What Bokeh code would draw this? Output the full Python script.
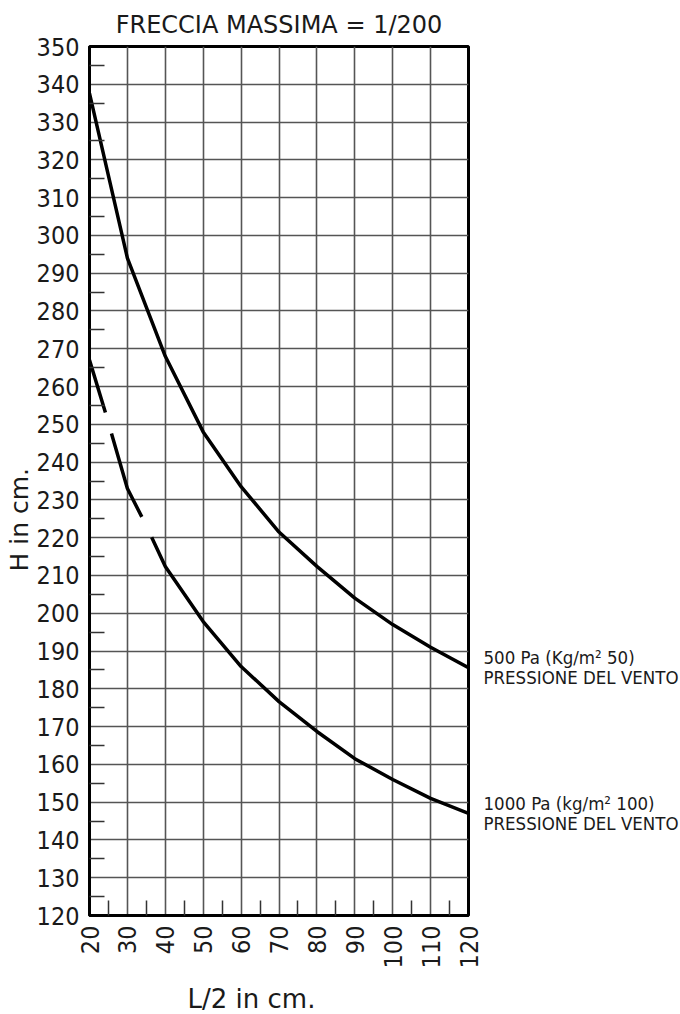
import numpy as np
from bokeh.plotting import figure
from bokeh.models import FixedTicker, Range1d, LinearAxis, Title, CustomJSTickFormatter
from bokeh.embed import file_html
from bokeh.resources import INLINE

nan = float("nan")

# ---- data ----
x_ticks = list(range(20, 121, 10))
x_minor = list(range(25, 120, 10))
y_ticks = list(range(120, 351, 10))
y_minor = list(range(125, 350, 10))

# 500 Pa (Kg/m2 50) wind pressure
x_500 = [20, 30, 40, 50, 60, 70, 80, 90, 100, 110, 120]
h_500 = [337.6, 294.0, 268.0, 248.0, 233.5, 221.5, 212.4, 204.0, 197.0, 191.0, 185.6]

# 1000 Pa (kg/m2 100) wind pressure (drawn with two breaks as in the reference)
x_1000 = [20, 24.2, nan, 25.8, 30, 33.8, nan, 36.4, 40, 50, 60, 70, 80, 90, 100, 110, 120]
h_1000 = [267.0, 253.1, nan, 247.6, 233.0, 225.5, nan, 220.1, 212.4, 197.8, 185.9,
          176.6, 168.7, 161.5, 156.0, 151.0, 147.0]

title_text = "FRECCIA MASSIMA = 1/200"
x_label = "L/2 in cm."
y_label = "H in cm."
label_500 = ["500 Pa (Kg/m\u00b2 50)", "PRESSIONE DEL VENTO"]
label_1000 = ["1000 Pa (kg/m\u00b2 100)", "PRESSIONE DEL VENTO"]

FONT = "DejaVu Sans Condensed"
FONT_WIDE = "DejaVu Sans"
INK = "#1a1a1a"

p = figure(frame_width=379, frame_height=869,
           x_range=Range1d(20, 120), y_range=Range1d(120, 350),
           output_backend="svg", toolbar_location=None,
           min_border_left=89, min_border_right=206,
           min_border_top=45, min_border_bottom=90,
           background_fill_color="white", border_fill_color="white")

p.title.text = title_text
p.title.align = "center"
p.title.text_font = FONT_WIDE
p.title.text_font_size = "24px"
p.title.text_font_style = "normal"
p.title.text_color = INK
p.title.standoff = 16

p.outline_line_color = "black"
p.outline_line_width = 3
p.outline_line_alpha = 1

for ax, ticks, minor in ((p.xaxis[0], x_ticks, x_minor), (p.yaxis[0], y_ticks, y_minor)):
    ax.ticker = FixedTicker(ticks=ticks, minor_ticks=minor)
    ax.axis_line_color = "black"
    ax.axis_line_width = 3
    ax.major_tick_in = 0
    ax.major_tick_out = 0
    ax.minor_tick_in = 15
    ax.minor_tick_out = 0
    ax.minor_tick_line_color = "#333333"
    ax.minor_tick_line_width = 1.5
    ax.major_label_text_font = FONT
    ax.major_label_text_font_size = "25px"
    ax.major_label_text_color = INK
    ax.major_label_standoff = 10

p.xaxis.major_label_orientation = np.pi / 2

p.grid.grid_line_color = "#555555"
p.grid.grid_line_width = 1.6

p.line(x_500, h_500, line_color="black", line_width=3.5)
p.line(x_1000, h_1000, line_color="black", line_width=3.5)

# right-hand curve labels: an axis without line/ticks whose labels sit beside the curve ends
px_per_unit = 869 / 230.0
up, down = 10 / px_per_unit, 10 / px_per_unit
label_pos = [h_1000[-1] - down, h_1000[-1] + up, h_500[-1] - down, h_500[-1] + up]
label_txt = [label_1000[1], label_1000[0], label_500[1], label_500[0]]
rax = LinearAxis(ticker=FixedTicker(ticks=label_pos, minor_ticks=[]),
                 formatter=CustomJSTickFormatter(args=dict(labels=label_txt),
                                                 code="return labels[index];"),
                 axis_line_color=None, major_tick_line_color=None, minor_tick_line_color=None,
                 major_label_standoff=9, major_label_text_font=FONT,
                 major_label_text_font_size="18.5px", major_label_text_color=INK)
p.add_layout(rax, "right")

# axis titles
p.add_layout(Title(text=y_label, align="left", offset=344, standoff=0,
                   text_font=FONT_WIDE, text_font_size="25px", text_font_style="normal",
                   text_color=INK), "left")
p.add_layout(Title(text=x_label, align="left", offset=98, standoff=24, vertical_align="top",
                   text_font=FONT_WIDE, text_font_size="26px", text_font_style="normal",
                   text_color=INK), "below")

open("out.html", "w").write(file_html(p, INLINE))
